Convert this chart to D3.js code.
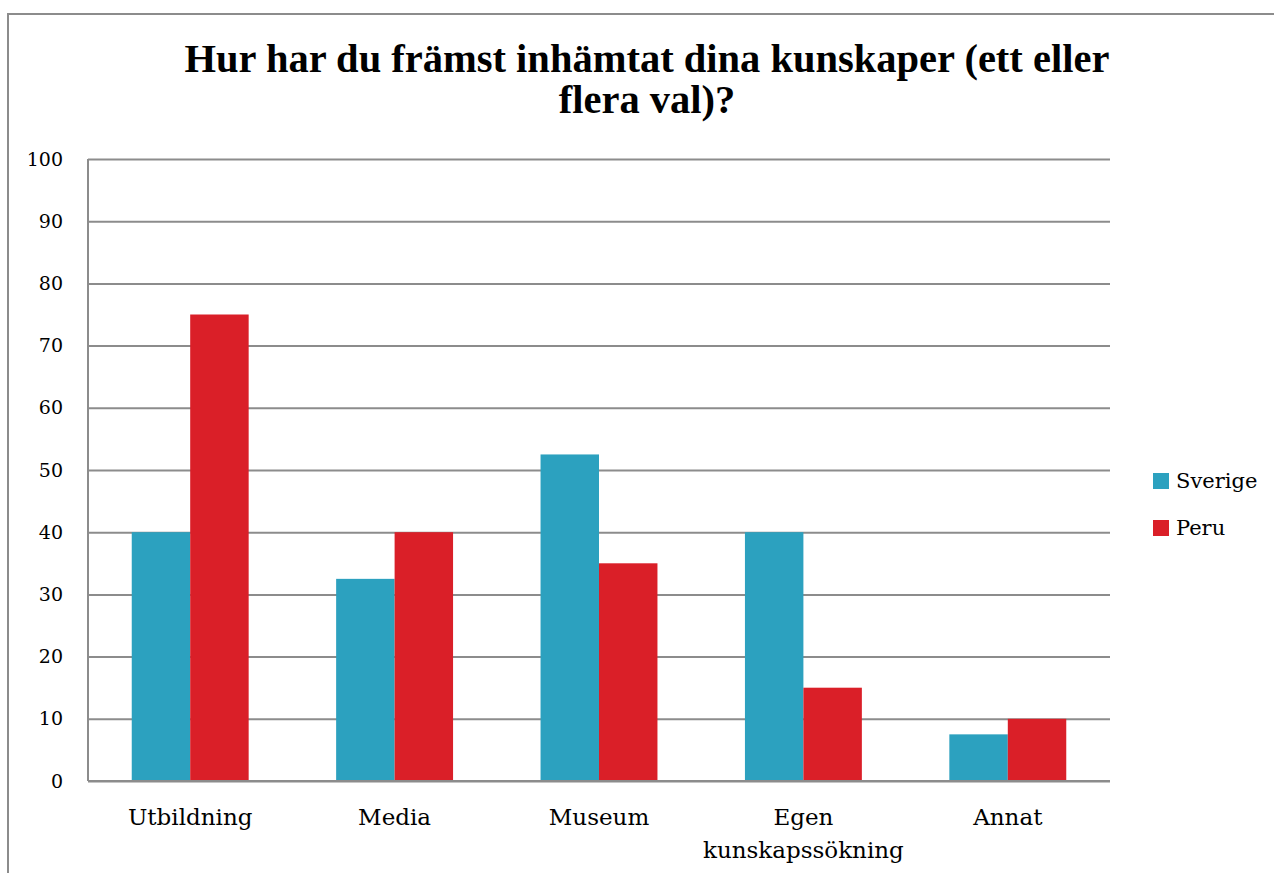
<!DOCTYPE html>
<html>
<head>
    <meta charset="utf-8">
    <title>Kunskaper</title>
    <style>
        body {
            padding: 0;
            margin: 0;
            background: white;
            font-family: "DejaVu Serif", "Liberation Serif", serif;
        }
        .grid line {
            stroke: #8c8c8c;
            stroke-width: 2;
        }
        .grid .domain {
            display: none;
        }
    </style>
</head>
<body>
    <div id="chart"></div>

    <script src="https://d3js.org/d3.v7.min.js"></script>
    <script>
        var categories = ["Utbildning", "Media", "Museum", "Egen kunskapssökning", "Annat"];
        var categoryLines = [["Utbildning"], ["Media"], ["Museum"], ["Egen", "kunskapssökning"], ["Annat"]];
        var seriesNames = ["Sverige", "Peru"];
        var sverige = [40, 32.5, 52.5, 40, 7.5];
        var peru = [75, 40, 35, 15, 10];
        var yTicks = [0, 10, 20, 30, 40, 50, 60, 70, 80, 90, 100];
        var colors = ["#2ca1bf", "#da1f28"];
        var titleLines = ["Hur har du främst inhämtat dina kunskaper (ett eller", "flera val)?"];

        var width = 1274, height = 873;
        var margin = { top: 159, left: 88, right: 164, bottom: 92 };

        var svg = d3.select("#chart")
            .append("svg")
            .attr("width", width)
            .attr("height", height);

        // outer frame (cut off on right and bottom)
        svg.append("rect")
            .attr("x", 8)
            .attr("y", 14)
            .attr("width", 1300)
            .attr("height", 900)
            .attr("fill", "none")
            .attr("stroke", "#8c8c8c")
            .attr("stroke-width", 2);

        var x0 = d3.scaleBand()
            .domain(categories)
            .range([margin.left, width - margin.right])
            .paddingInner(0.428)
            .paddingOuter(0.214);

        var x1 = d3.scaleBand()
            .domain(seriesNames)
            .range([0, x0.bandwidth()]);

        var y = d3.scaleLinear()
            .domain([0, 100])
            .range([height - margin.bottom, margin.top]);

        // gridlines
        svg.append("g")
            .attr("class", "grid")
            .attr("transform", "translate(" + margin.left + ",0)")
            .call(d3.axisRight(y).tickValues(yTicks).tickSize(width - margin.right - margin.left).tickFormat(""));

        // y axis line
        svg.append("line")
            .attr("x1", margin.left).attr("x2", margin.left)
            .attr("y1", y(100)).attr("y2", y(0))
            .attr("stroke", "#8c8c8c")
            .attr("stroke-width", 2);

        // y labels
        svg.append("g")
            .selectAll("text")
            .data(yTicks)
            .enter()
            .append("text")
            .attr("x", 63)
            .attr("y", function (d) { return y(d); })
            .attr("dy", "0.35em")
            .attr("text-anchor", "end")
            .attr("font-size", 19)
            .text(function (d) { return d; });

        var data = categories.map(function (c, i) {
            return { cat: c, values: [sverige[i], peru[i]] };
        });

        var groups = svg.append("g")
            .selectAll("g")
            .data(data)
            .enter()
            .append("g")
            .attr("transform", function (d) { return "translate(" + x0(d.cat) + ",0)"; });

        groups.selectAll("rect")
            .data(function (d) {
                return d.values.map(function (v, j) { return { name: seriesNames[j], value: v, j: j }; });
            })
            .enter()
            .append("rect")
            .attr("x", function (d) { return x1(d.name); })
            .attr("y", function (d) { return y(d.value); })
            .attr("width", x1.bandwidth())
            .attr("height", function (d) { return y(0) - y(d.value); })
            .attr("fill", function (d) { return colors[d.j]; });

        // baseline on top of bars
        svg.append("line")
            .attr("x1", margin.left).attr("x2", width - margin.right)
            .attr("y1", y(0)).attr("y2", y(0))
            .attr("stroke", "#8c8c8c")
            .attr("stroke-width", 2);

        // x labels
        var xl = svg.append("g")
            .selectAll("text")
            .data(categories)
            .enter()
            .append("text")
            .attr("text-anchor", "middle")
            .attr("font-size", 23)
            .attr("x", function (d) { return x0(d) + x0.bandwidth() / 2; })
            .attr("y", 825);

        xl.selectAll("tspan")
            .data(function (d, i) { return categoryLines[i]; })
            .enter()
            .append("tspan")
            .attr("x", function () { return d3.select(this.parentNode).attr("x"); })
            .attr("dy", function (d, i) { return i === 0 ? 0 : 33; })
            .text(function (d) { return d; });

        // title
        svg.append("g")
            .selectAll("text")
            .data(titleLines)
            .enter()
            .append("text")
            .attr("x", 647)
            .attr("y", function (d, i) { return 72 + i * 41; })
            .attr("text-anchor", "middle")
            .attr("font-family", "'Liberation Serif', serif")
            .attr("font-size", 40.5)
            .attr("font-weight", "bold")
            .text(function (d) { return d; });

        // legend
        var legend = svg.append("g")
            .selectAll("g")
            .data(seriesNames)
            .enter()
            .append("g")
            .attr("transform", function (d, i) { return "translate(1153," + (473 + i * 47) + ")"; });

        legend.append("rect")
            .attr("width", 16)
            .attr("height", 16)
            .attr("fill", function (d, i) { return colors[i]; });

        legend.append("text")
            .attr("x", 23)
            .attr("y", 8)
            .attr("dy", "0.35em")
            .attr("font-size", 21)
            .text(function (d) { return d; });
    </script>
</body>
</html>
